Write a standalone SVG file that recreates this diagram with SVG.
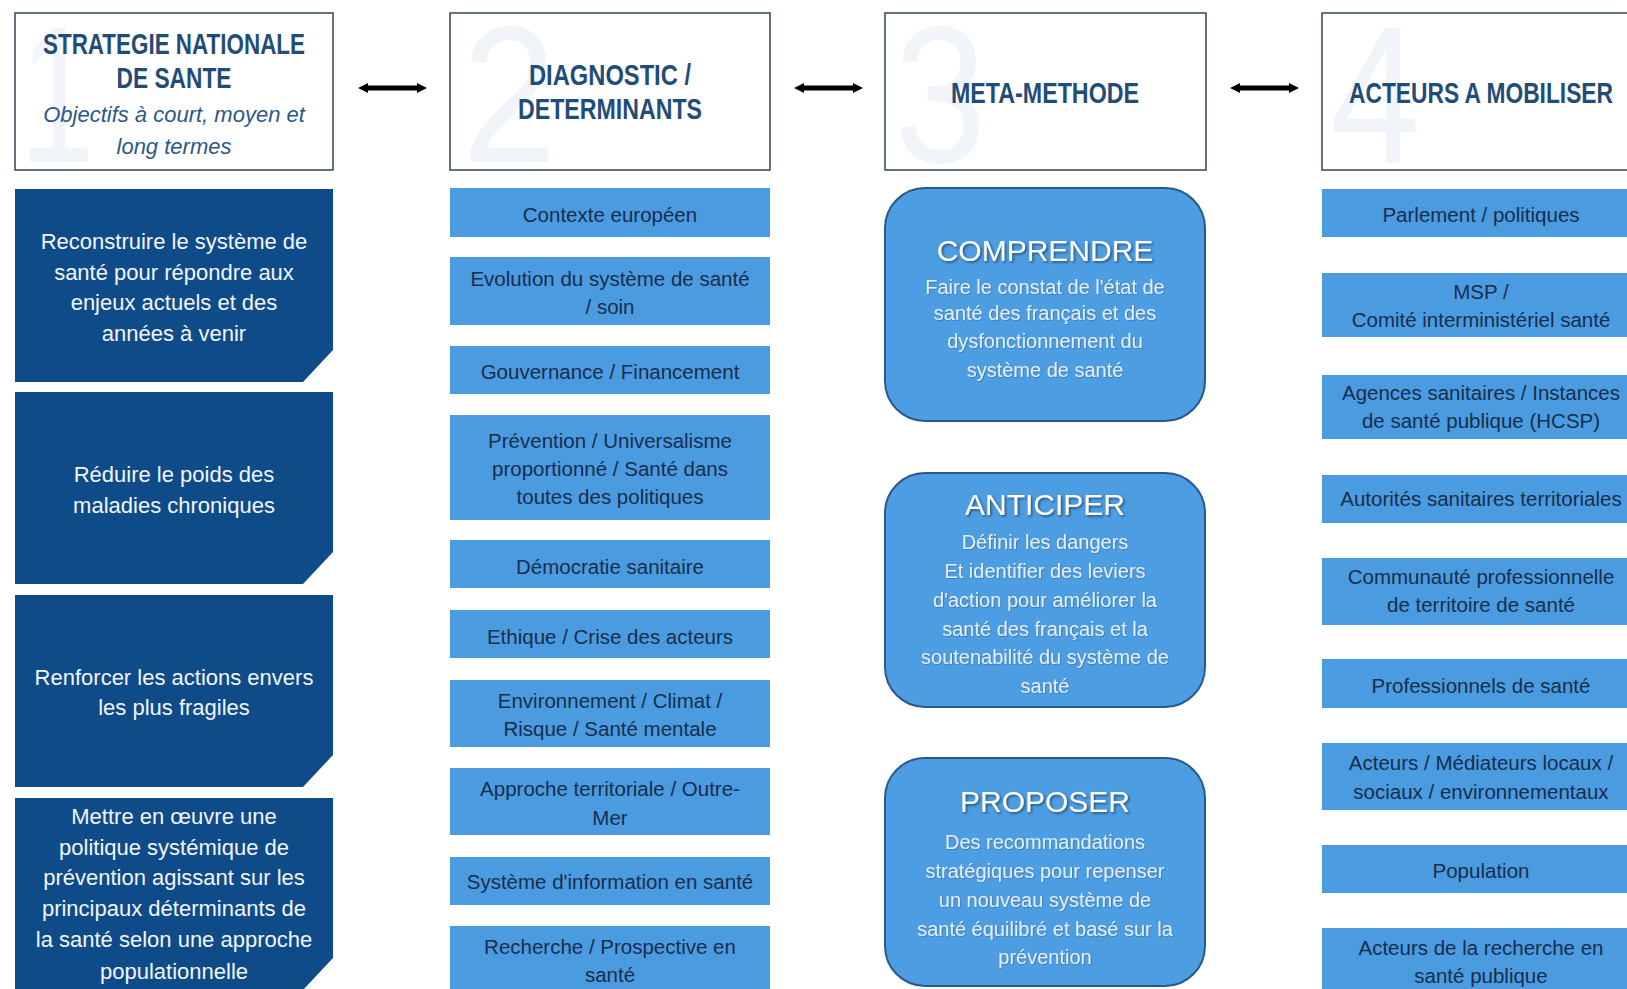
<svg xmlns="http://www.w3.org/2000/svg" width="1627" height="989" viewBox="0 0 1627 989">
<defs>
<style>
.hdr{fill:#ffffff;stroke:#3e5162;stroke-width:1.6}
.wm{font-family:"Liberation Sans",Arial,sans-serif;font-size:195px;fill:#f1f4f8;text-anchor:start}
.ht{font-family:"Liberation Sans",Arial,sans-serif;font-weight:bold;font-size:30px;fill:#1f4d77;text-anchor:middle}
.hi{font-family:"Liberation Sans",Arial,sans-serif;font-style:italic;font-size:22px;fill:#2b5987;text-anchor:middle}
.dk{fill:#0f4b89}
.c1{font-family:"Liberation Sans",Arial,sans-serif;font-size:22px;fill:#f2f6fb;text-anchor:middle}
.lb{fill:#4b9be0}
.c2{font-family:"Liberation Sans",Arial,sans-serif;font-size:20.5px;fill:#172e4c;text-anchor:middle}
.rb{fill:#4d9de2;stroke:#28598a;stroke-width:2}
.t3{font-family:"Liberation Sans",Arial,sans-serif;font-size:30px;fill:#ffffff;text-anchor:middle;filter:url(#sh)}
.b3{font-family:"Liberation Sans",Arial,sans-serif;font-size:20px;fill:#e3effb;text-anchor:middle;filter:url(#sh2)}
.arr{stroke:#000000;stroke-width:5;fill:none;marker-start:url(#ah);marker-end:url(#ah)}
</style>
<marker id="ah" viewBox="0 0 10 10" refX="2" refY="5" markerWidth="10" markerHeight="13" markerUnits="userSpaceOnUse" orient="auto-start-reverse">
<path d="M0,0 L10,5 L0,10 z" fill="#000000"/>
</marker>
<filter id="sh" x="-10%" y="-30%" width="120%" height="160%">
<feDropShadow dx="1.5" dy="1.5" stdDeviation="1" flood-color="#1b3f66" flood-opacity="0.8"/>
</filter>
<filter id="sh2" x="-10%" y="-30%" width="120%" height="160%">
<feDropShadow dx="0.8" dy="0.8" stdDeviation="0.6" flood-color="#2a5a8a" flood-opacity="0.6"/>
</filter>
</defs>
<rect x="0" y="0" width="1627" height="989" fill="#ffffff"/>

<!-- Headers -->
<g id="header-1">
<rect class="hdr" x="15" y="13" width="318" height="157"/>
<text class="wm" x="20" y="162" textLength="74" lengthAdjust="spacingAndGlyphs">1</text>
<text class="ht" x="174" y="54" textLength="262" lengthAdjust="spacingAndGlyphs">STRATEGIE NATIONALE</text>
<text class="ht" x="174" y="88" textLength="115" lengthAdjust="spacingAndGlyphs">DE SANTE</text>
<text class="hi" x="174" y="122">Objectifs à court, moyen et</text>
<text class="hi" x="174" y="154">long termes</text>
</g>
<g id="header-2">
<rect class="hdr" x="450" y="13" width="320" height="157"/>
<text class="wm" x="462" y="162" textLength="94" lengthAdjust="spacingAndGlyphs">2</text>
<text class="ht" x="610" y="85" textLength="162" lengthAdjust="spacingAndGlyphs">DIAGNOSTIC /</text>
<text class="ht" x="610" y="119" textLength="184" lengthAdjust="spacingAndGlyphs">DETERMINANTS</text>
</g>
<g id="header-3">
<rect class="hdr" x="885" y="13" width="321" height="157"/>
<text class="wm" x="894" y="162" textLength="92" lengthAdjust="spacingAndGlyphs">3</text>
<text class="ht" x="1045" y="103" textLength="188" lengthAdjust="spacingAndGlyphs">META-METHODE</text>
</g>
<g id="header-4">
<rect class="hdr" x="1322" y="13" width="330" height="157"/>
<text class="wm" x="1330" y="162" textLength="90" lengthAdjust="spacingAndGlyphs">4</text>
<text class="ht" x="1481" y="103" textLength="264" lengthAdjust="spacingAndGlyphs">ACTEURS A MOBILISER</text>
</g>

<!-- Connectors -->
<g id="connectors">
<line class="arr" x1="366" y1="88" x2="419" y2="88"/>
<line class="arr" x1="802" y1="88" x2="855" y2="88"/>
<line class="arr" x1="1238" y1="88" x2="1291" y2="88"/>
</g>

<!-- Column 1 -->
<g id="obj-1">
<path class="dk" d="M15,189 H333 V350 L303,382 H15 Z"/>
<text class="c1" x="174" y="249">Reconstruire le système de</text>
<text class="c1" x="174" y="280">santé pour répondre aux</text>
<text class="c1" x="174" y="310">enjeux actuels et des</text>
<text class="c1" x="174" y="341">années à venir</text>
</g>
<g id="obj-2">
<path class="dk" d="M15,392 H333 V552 L303,584 H15 Z"/>
<text class="c1" x="174" y="482">Réduire le poids des</text>
<text class="c1" x="174" y="513">maladies chroniques</text>
</g>
<g id="obj-3">
<path class="dk" d="M15,595 H333 V755 L303,787 H15 Z"/>
<text class="c1" x="174" y="685">Renforcer les actions envers</text>
<text class="c1" x="174" y="715">les plus fragiles</text>
</g>
<g id="obj-4">
<path class="dk" d="M15,798 H333 V958 L303,990 H15 Z"/>
<text class="c1" x="174" y="824">Mettre en œuvre une</text>
<text class="c1" x="174" y="855">politique systémique de</text>
<text class="c1" x="174" y="885">prévention agissant sur les</text>
<text class="c1" x="174" y="916">principaux déterminants de</text>
<text class="c1" x="174" y="947">la santé selon une approche</text>
<text class="c1" x="174" y="979">populationnelle</text>
</g>

<!-- Column 2 -->
<g id="diag-1"><rect class="lb" x="450" y="188" width="320" height="49"/>
<text class="c2" x="610" y="222">Contexte européen</text></g>
<g id="diag-2"><rect class="lb" x="450" y="257" width="320" height="68"/>
<text class="c2" x="610" y="286">Evolution du système de santé</text>
<text class="c2" x="610" y="314">/ soin</text></g>
<g id="diag-3"><rect class="lb" x="450" y="346" width="320" height="48"/>
<text class="c2" x="610" y="379">Gouvernance / Financement</text></g>
<g id="diag-4"><rect class="lb" x="450" y="415" width="320" height="105"/>
<text class="c2" x="610" y="448">Prévention / Universalisme</text>
<text class="c2" x="610" y="476">proportionné / Santé dans</text>
<text class="c2" x="610" y="504">toutes des politiques</text></g>
<g id="diag-5"><rect class="lb" x="450" y="540" width="320" height="48"/>
<text class="c2" x="610" y="574">Démocratie sanitaire</text></g>
<g id="diag-6"><rect class="lb" x="450" y="610" width="320" height="48"/>
<text class="c2" x="610" y="644">Ethique / Crise des acteurs</text></g>
<g id="diag-7"><rect class="lb" x="450" y="680" width="320" height="67"/>
<text class="c2" x="610" y="708">Environnement / Climat /</text>
<text class="c2" x="610" y="736">Risque / Santé mentale</text></g>
<g id="diag-8"><rect class="lb" x="450" y="768" width="320" height="67"/>
<text class="c2" x="610" y="796">Approche territoriale / Outre-</text>
<text class="c2" x="610" y="825">Mer</text></g>
<g id="diag-9"><rect class="lb" x="450" y="857" width="320" height="48"/>
<text class="c2" x="610" y="889">Système d'information en santé</text></g>
<g id="diag-10"><rect class="lb" x="450" y="926" width="320" height="70"/>
<text class="c2" x="610" y="954">Recherche / Prospective en</text>
<text class="c2" x="610" y="982">santé</text></g>

<!-- Column 3 -->
<g id="meth-comprendre">
<rect class="rb" x="885" y="188" width="320" height="233" rx="40" ry="40"/>
<text class="t3" x="1045" y="261">COMPRENDRE</text>
<text class="b3" x="1045" y="294">Faire le constat de l'état de</text>
<text class="b3" x="1045" y="320">santé des français et des</text>
<text class="b3" x="1045" y="348">dysfonctionnement du</text>
<text class="b3" x="1045" y="377">système de santé</text>
</g>
<g id="meth-anticiper">
<rect class="rb" x="885" y="473" width="320" height="234" rx="40" ry="40"/>
<text class="t3" x="1045" y="515">ANTICIPER</text>
<text class="b3" x="1045" y="549">Définir les dangers</text>
<text class="b3" x="1045" y="578">Et identifier des leviers</text>
<text class="b3" x="1045" y="607">d'action pour améliorer la</text>
<text class="b3" x="1045" y="636">santé des français et la</text>
<text class="b3" x="1045" y="664">soutenabilité du système de</text>
<text class="b3" x="1045" y="693">santé</text>
</g>
<g id="meth-proposer">
<rect class="rb" x="885" y="758" width="320" height="228" rx="40" ry="40"/>
<text class="t3" x="1045" y="812">PROPOSER</text>
<text class="b3" x="1045" y="849">Des recommandations</text>
<text class="b3" x="1045" y="878">stratégiques pour repenser</text>
<text class="b3" x="1045" y="907">un nouveau système de</text>
<text class="b3" x="1045" y="936">santé équilibré et basé sur la</text>
<text class="b3" x="1045" y="964">prévention</text>
</g>

<!-- Column 4 -->
<g id="act-1"><rect class="lb" x="1322" y="189" width="330" height="48"/>
<text class="c2" x="1481" y="222">Parlement / politiques</text></g>
<g id="act-2"><rect class="lb" x="1322" y="273" width="330" height="64"/>
<text class="c2" x="1481" y="299">MSP /</text>
<text class="c2" x="1481" y="327">Comité interministériel santé</text></g>
<g id="act-3"><rect class="lb" x="1322" y="375" width="330" height="64"/>
<text class="c2" x="1481" y="400">Agences sanitaires / Instances</text>
<text class="c2" x="1481" y="428">de santé publique (HCSP)</text></g>
<g id="act-4"><rect class="lb" x="1322" y="475" width="330" height="48"/>
<text class="c2" x="1481" y="506">Autorités sanitaires territoriales</text></g>
<g id="act-5"><rect class="lb" x="1322" y="558" width="330" height="67"/>
<text class="c2" x="1481" y="584">Communauté professionnelle</text>
<text class="c2" x="1481" y="612">de territoire de santé</text></g>
<g id="act-6"><rect class="lb" x="1322" y="659" width="330" height="49"/>
<text class="c2" x="1481" y="693">Professionnels de santé</text></g>
<g id="act-7"><rect class="lb" x="1322" y="743" width="330" height="67"/>
<text class="c2" x="1481" y="770">Acteurs / Médiateurs locaux /</text>
<text class="c2" x="1481" y="799">sociaux / environnementaux</text></g>
<g id="act-8"><rect class="lb" x="1322" y="845" width="330" height="48"/>
<text class="c2" x="1481" y="878">Population</text></g>
<g id="act-9"><rect class="lb" x="1322" y="928" width="330" height="68"/>
<text class="c2" x="1481" y="955">Acteurs de la recherche en</text>
<text class="c2" x="1481" y="983">santé publique</text></g>
</svg>
